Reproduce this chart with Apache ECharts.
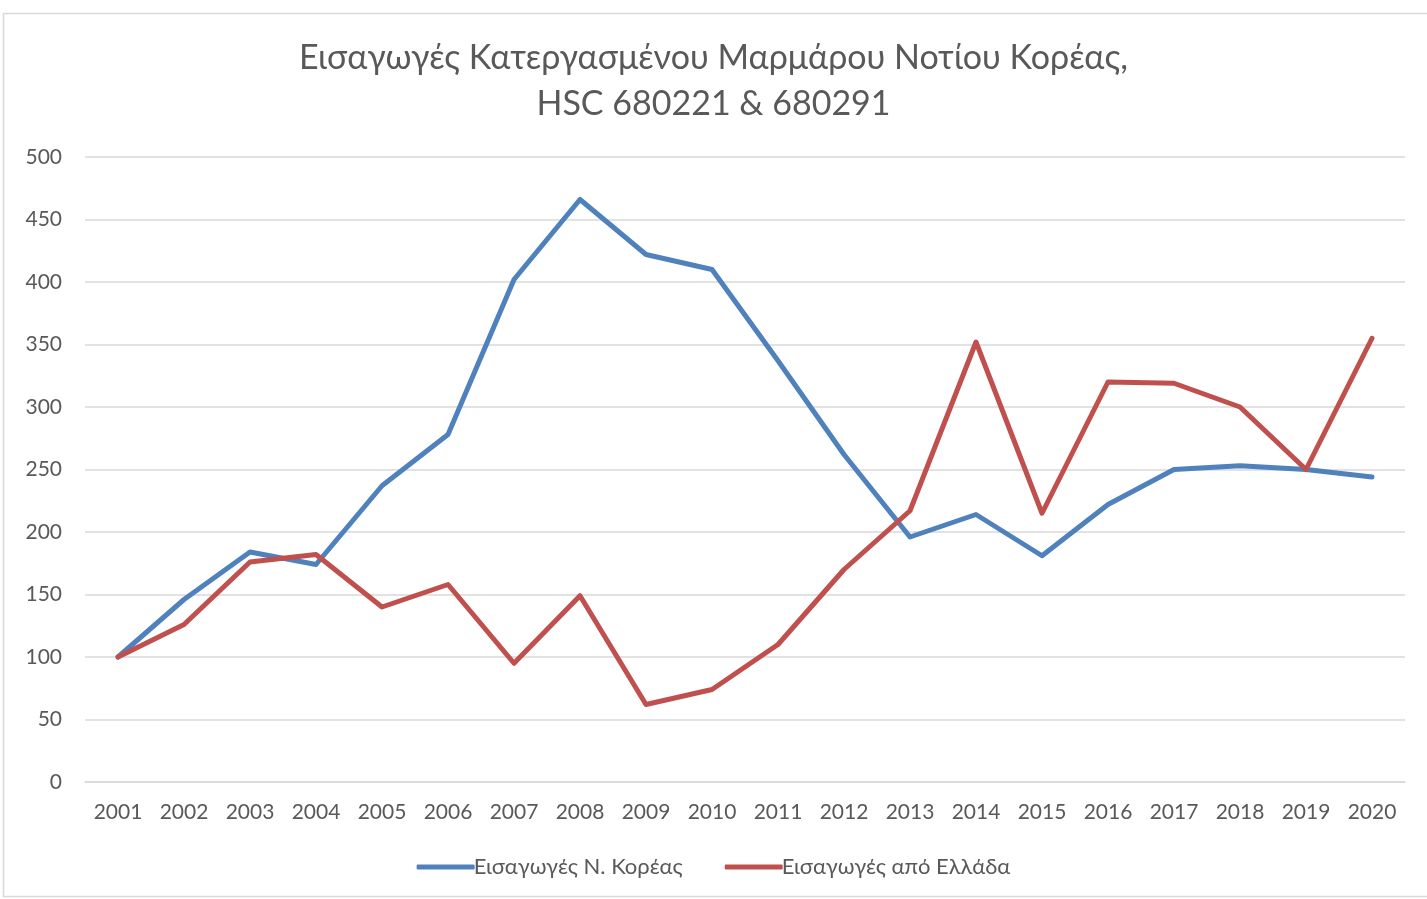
<!DOCTYPE html>
<html><head><meta charset="utf-8">
<script src="https://cdn.jsdelivr.net/npm/echarts@6/dist/echarts.min.js"></script>
<style>html,body{margin:0;padding:0;background:#fff}#c{width:1427px;height:899px}</style>
</head><body><div id="c"></div>
<script>
const years = ['2001','2002','2003','2004','2005','2006','2007','2008','2009','2010','2011','2012','2013','2014','2015','2016','2017','2018','2019','2020'];
const korea = [100,146,184,174,237,278,402,466,422,410,337,262,196,214,181,222,250,253,250,244];
const greece = [100,126,176,182,140,158,95,149,62,74,110,170,217,352,215,320,319,300,250,355];
const yTicks = [0,50,100,150,200,250,300,350,400,450,500];
const font = 'Lato, "Open Sans", sans-serif';
const chart = echarts.init(document.getElementById('c'));
chart.setOption({
  animation:false,
  graphic:[{type:'rect',shape:{x:3.5,y:13.5,width:1440,height:883},style:{fill:'none',stroke:'#d9d9d9',lineWidth:1.5}}],
  title:{text:'Εισαγωγές Κατεργασμένου Μαρμάρου Νοτίου Κορέας,\nHSC 680221 & 680291',left:'center',top:30,
    textStyle:{fontFamily:font,fontSize:34,fontWeight:'normal',color:'#595959',lineHeight:46}},
  legend:{bottom:16,left:'center',itemWidth:58,itemHeight:5,itemGap:42,icon:'roundRect',
    textStyle:{fontFamily:font,fontSize:22,color:'#595959',padding:[0,0,0,-6]}},
  grid:{left:85,right:22,top:157,bottom:117},
  xAxis:{type:'category',data:years,boundaryGap:true,
    axisLine:{lineStyle:{color:'#d9d9d9',width:1.5}},axisTick:{show:false},
    axisLabel:{fontFamily:font,fontSize:21,color:'#595959',margin:20}},
  yAxis:{type:'value',min:yTicks[0],max:yTicks[yTicks.length-1],interval:50,
    axisLine:{show:false},axisTick:{show:false},
    splitLine:{lineStyle:{color:'#d9d9d9',width:1.5}},
    axisLabel:{fontFamily:font,fontSize:21,color:'#595959',margin:23}},
  series:[
    {name:'Εισαγωγές Ν. Κορέας',type:'line',data:korea,symbol:'none',lineStyle:{color:'#4f81bd',width:5,cap:'round',join:'round'},itemStyle:{color:'#4f81bd'}},
    {name:'Εισαγωγές από Ελλάδα',type:'line',data:greece,symbol:'none',lineStyle:{color:'#c0504d',width:5,cap:'round',join:'round'},itemStyle:{color:'#c0504d'}}
  ]
});
</script></body></html>
